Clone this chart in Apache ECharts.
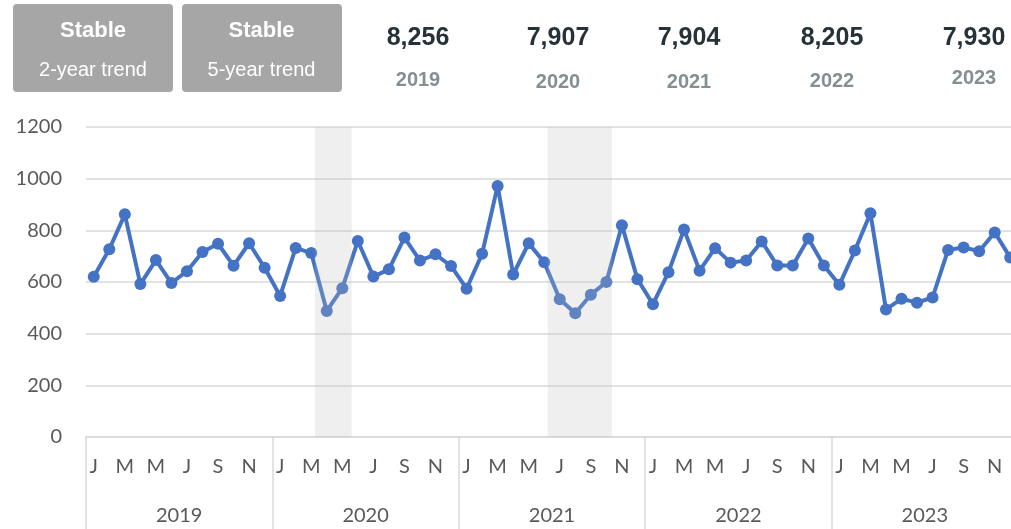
<!DOCTYPE html>
<html>
<head>
<meta charset="utf-8">
<script src="https://cdn.jsdelivr.net/npm/echarts@6/dist/echarts.min.js"></script>
<style>
  html, body { margin: 0; padding: 0; background: #ffffff; overflow: hidden; }
  #chart { width: 1022px; height: 529px; }
</style>
</head>
<body>
<div id="chart"></div>
<script>
// ---- data ----
const years = ['2019', '2020', '2021', '2022', '2023'];
const monthNames = ['Jan', 'Feb', 'Mar', 'Apr', 'May', 'Jun', 'Jul', 'Aug', 'Sep', 'Oct', 'Nov', 'Dec'];
const values2019 = [620, 727, 862, 592, 685, 596, 642, 716, 748, 663, 750, 655];
const values2020 = [546, 732, 712, 488, 576, 759, 621, 649, 772, 683, 707, 662];
const values2021 = [574, 709, 972, 629, 750, 676, 533, 479, 551, 600, 820, 611];
const values2022 = [514, 638, 803, 644, 731, 675, 683, 757, 664, 664, 768, 664];
const values2023 = [589, 722, 866, 494, 535, 520, 540, 724, 734, 719, 792, 695];
const yearTotals = ['8,256', '7,907', '7,904', '8,205', '7,930'];
const trendTitles = ['Stable', 'Stable'];
const trendSubtitles = ['2-year trend', '5-year trend'];
const yTicks = [0, 200, 400, 600, 800, 1000, 1200];
// shaded periods, in month-index units (month i spans i .. i+1)
const bandStarts = [14.75, 29.72];
const bandEnds = [17.1, 33.86];

// ---- build ----
const categories = [];
years.forEach(y => monthNames.forEach(m => categories.push(m + ' ' + y)));
const values = [].concat(values2019, values2020, values2021, values2022, values2023);

const labelFont = 'Lato';
const axisGray = '#595959';
const lineGray = '#d9d9d9';

// top header graphics
const graphics = [];
const boxCenters = [93, 261.5];
const boxLefts = [13, 182];
trendTitles.forEach((t, i) => {
  graphics.push({
    type: 'rect', left: boxLefts[i], top: 4,
    shape: { width: 160, height: 88, r: 4 },
    style: { fill: '#a6a6a6' }
  });
  graphics.push({
    type: 'text', x: boxCenters[i], y: 31,
    style: { text: t, fill: '#ffffff', font: 'bold 22px "Liberation Sans", Arial, sans-serif', align: 'center', verticalAlign: 'middle' }
  });
  graphics.push({
    type: 'text', x: boxCenters[i], y: 70,
    style: { text: trendSubtitles[i], fill: '#ffffff', font: '20px "Liberation Sans", Arial, sans-serif', align: 'center', verticalAlign: 'middle' }
  });
});
const totalX = [418, 558, 689, 832, 974];
const yearY = [80, 82, 82, 81, 78];
yearTotals.forEach((t, i) => {
  graphics.push({
    type: 'text', x: totalX[i], y: 38,
    style: { text: t, fill: '#263238', font: 'bold 25px "Liberation Sans", Arial, sans-serif', align: 'center', verticalAlign: 'middle' }
  });
  graphics.push({
    type: 'text', x: totalX[i], y: yearY[i],
    style: { text: years[i], fill: '#848e93', font: 'bold 20px "Liberation Sans", Arial, sans-serif', align: 'center', verticalAlign: 'middle' }
  });
});

const chart = echarts.init(document.getElementById('chart'), null, { renderer: 'canvas' });
chart.setOption({
  animation: false,
  backgroundColor: '#ffffff',
  graphic: graphics,
  grid: { left: 86, top: 127, right: 4, height: 310, containLabel: false },
  xAxis: [
    {
      type: 'category', position: 'bottom', data: categories, boundaryGap: true,
      axisLine: { show: true, lineStyle: { color: lineGray, width: 1.5 } },
      axisTick: { show: false },
      axisLabel: {
        interval: 1, margin: 20, color: axisGray, fontFamily: labelFont, fontSize: 20,
        formatter: v => v.charAt(0)
      },
      splitLine: { show: false }
    },
    {
      type: 'category', position: 'bottom', data: years, boundaryGap: true,
      axisLine: { show: false },
      axisTick: { show: true, length: 95, lineStyle: { color: lineGray, width: 1.5 } },
      axisLabel: { margin: 69, color: axisGray, fontFamily: labelFont, fontSize: 20 },
      splitLine: { show: false }
    },
    {
      type: 'value', position: 'top', min: 0, max: categories.length, show: false
    }
  ],
  yAxis: {
    type: 'value', min: yTicks[0], max: yTicks[yTicks.length - 1], interval: yTicks[1] - yTicks[0],
    axisLine: { show: false }, axisTick: { show: false },
    axisLabel: { margin: 24, color: axisGray, fontFamily: labelFont, fontSize: 20, formatter: v => String(v) },
    splitLine: { lineStyle: { color: lineGray, width: 1.5 } }
  },
  series: [
    {
      type: 'line', xAxisIndex: 0, yAxisIndex: 0, data: values,
      symbol: 'circle', symbolSize: 12, showAllSymbol: true, z: 2,
      lineStyle: { color: '#4472C4', width: 4 },
      itemStyle: { color: '#4472C4' }
    },
    {
      type: 'line', xAxisIndex: 2, yAxisIndex: 0, data: [],
      silent: true,
      markArea: {
        silent: true, z: 10,
        itemStyle: { color: 'rgba(190,190,190,0.24)' },
        data: bandStarts.map((s, i) => [{ xAxis: s }, { xAxis: bandEnds[i] }])
      }
    }
  ]
});
</script>
</body>
</html>
